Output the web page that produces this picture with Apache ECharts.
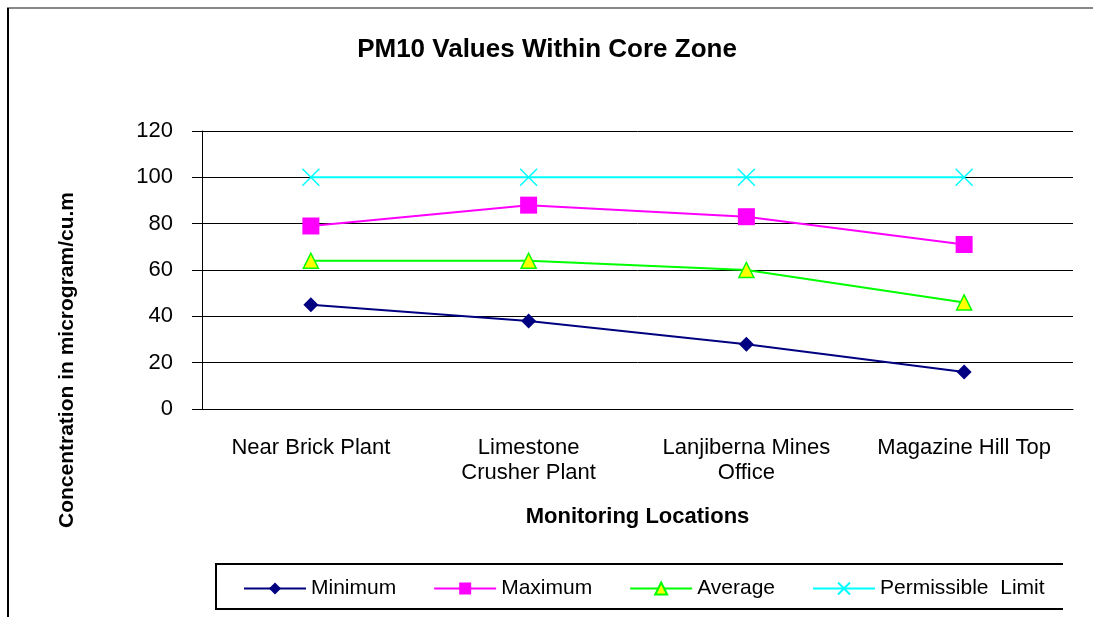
<!DOCTYPE html>
<html>
<head>
<meta charset="utf-8">
<script src="https://cdn.jsdelivr.net/npm/echarts@6/dist/echarts.min.js"></script>
<style>
  html, body { margin: 0; padding: 0; background: #fff; }
  #chartCont { width: 1094px; height: 617px; }
</style>
</head>
<body>
<div id="chartCont"></div>
<script>
var locations = ['Near Brick Plant', 'Limestone\nCrusher Plant', 'Lanjiberna Mines\nOffice', 'Magazine Hill Top'];
var minimum = [45, 38, 28, 16];
var maximum = [79, 88, 83, 71];
var average = [64, 64, 60, 46];
var permissible = [100, 100, 100, 100];
var yTicks = { min: 0, max: 120, interval: 20 };

var font = 'Liberation Sans, Arial, sans-serif';
var crossPath = 'path://M0,0L10,10M10,0L0,10';

window.onload = function() {
    setLine();
};

function setLine() {
    var ec = echarts.init(document.getElementById('chartCont'));
    ec.setOption({
        animation: false,
        backgroundColor: '#fff',
        title: {
            text: 'PM10 Values Within Core Zone',
            left: 'center',
            top: 32,
            textStyle: {
                fontFamily: font,
                fontSize: 26,
                fontWeight: 'bold',
                color: '#000'
            }
        },
        grid: {
            left: 202,
            right: 21,
            top: 131,
            bottom: 208
        },
        legend: {
            left: 238,
            top: 573,
            itemWidth: 62,
            itemHeight: 15,
            itemGap: 37,
            textStyle: {
                fontFamily: font,
                fontSize: 21,
                color: '#000'
            },
            data: ['Minimum', 'Maximum', 'Average', 'Permissible  Limit']
        },
        xAxis: {
            type: 'category',
            data: locations,
            boundaryGap: true,
            name: 'Monitoring Locations',
            nameLocation: 'middle',
            nameGap: 97,
            nameTextStyle: {
                fontFamily: font,
                fontSize: 22,
                fontWeight: 'bold',
                color: '#000'
            },
            axisLine: { lineStyle: { color: '#000', width: 1 } },
            axisTick: { length: 9, lineStyle: { color: '#000' } },
            axisLabel: {
                interval: 0,
                margin: 26,
                fontFamily: font,
                fontSize: 22,
                lineHeight: 25,
                color: '#000'
            }
        },
        yAxis: {
            type: 'value',
            min: yTicks.min,
            max: yTicks.max,
            interval: yTicks.interval,
            axisLine: { show: true, lineStyle: { color: '#000', width: 1 } },
            axisTick: { show: true, length: 10, lineStyle: { color: '#000' } },
            splitLine: { show: true, lineStyle: { color: '#000', width: 1 } },
            axisLabel: {
                margin: 29,
                fontFamily: font,
                fontSize: 22,
                color: '#000'
            }
        },
        graphic: [
            {
                type: 'line',
                shape: { x1: 7, y1: 8, x2: 1093, y2: 8 },
                style: { stroke: '#888', lineWidth: 2 }
            },
            {
                type: 'line',
                shape: { x1: 8, y1: 8, x2: 8, y2: 617 },
                style: { stroke: '#000', lineWidth: 2 }
            },
            {
                type: 'polyline',
                shape: { points: [[1063, 564], [216, 564], [216, 609], [1063, 609]] },
                style: { stroke: '#000', lineWidth: 2, fill: null }
            },
            {
                type: 'text',
                x: 67,
                y: 360,
                rotation: Math.PI / 2,
                style: {
                    text: 'Concentration in microgram/cu.m',
                    fontFamily: font,
                    fontSize: 21,
                    fontWeight: 'bold',
                    fill: '#000',
                    align: 'center',
                    verticalAlign: 'middle'
                }
            }
        ],
        series: [{
            name: 'Minimum',
            type: 'line',
            data: minimum,
            symbol: 'diamond',
            symbolSize: 15,
            lineStyle: { color: '#000080', width: 2 },
            itemStyle: { color: '#000080' }
        }, {
            name: 'Maximum',
            type: 'line',
            data: maximum,
            symbol: 'rect',
            symbolSize: 17,
            lineStyle: { color: '#ff00ff', width: 2 },
            itemStyle: { color: '#ff00ff' }
        }, {
            name: 'Average',
            type: 'line',
            data: average,
            symbol: 'triangle',
            symbolSize: 15,
            lineStyle: { color: '#00ff00', width: 2 },
            itemStyle: { color: '#ffff00', borderColor: '#00ff00', borderWidth: 1.5 }
        }, {
            name: 'Permissible  Limit',
            type: 'line',
            data: permissible,
            symbol: crossPath,
            symbolSize: 17,
            lineStyle: { color: '#00ffff', width: 2 },
            itemStyle: { color: '#00ffff', borderColor: '#00ffff', borderWidth: 1.5 }
        }]
    });
}
</script>
</body>
</html>
